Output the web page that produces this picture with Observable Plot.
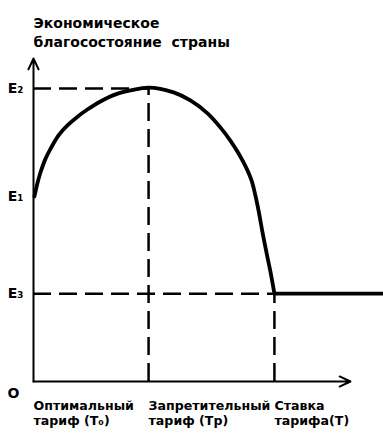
<!DOCTYPE html>
<html>
<head>
<meta charset="utf-8">
<script src="https://cdn.jsdelivr.net/npm/d3@7"></script>
<script src="https://cdn.jsdelivr.net/npm/@observablehq/plot@0.6"></script>
<style>
  html, body { margin: 0; padding: 0; background: #fff; }
  svg { display: block; }
</style>
</head>
<body>
<div id="chart"></div>
<script>
// Title
const titleText = "Экономическое\nблагосостояние  страны";

// Key levels (welfare) and tariff rates
const levelValues = [5.73, 9.07, 2.72];          // E1, E2, E3
const levelLabels = ["E₁", "E₂", "E₃"];
const tariffValues = [0, 3.63, 7.6];             // origin, T0, Tp
const tariffLabels = ["Оптимальный\nтариф (Т₀)", "Запретительный\nтариф (Тр)", "Ставка\nтарифа(Т)"];
const originLabel = "O";

// Welfare curve (tariff rate, welfare)
const curveX = [0.03, 0.13, 0.22, 0.38, 0.54, 0.79, 1.07, 1.39, 1.70, 2.11, 2.59, 3.06, 3.63,
                4.42, 4.95, 5.49, 5.90, 6.21, 6.47, 6.69, 6.88, 7.00, 7.10, 7.22, 7.35, 7.48, 7.60];
const curveY = [5.73, 6.16, 6.47, 6.90, 7.21, 7.62, 7.93, 8.20, 8.42, 8.67, 8.89, 9.01, 9.10,
                8.95, 8.70, 8.30, 7.86, 7.46, 7.06, 6.66, 6.22, 5.76, 5.29, 4.64, 3.99, 3.37, 2.72];
// Flat part after prohibitive tariff
const flatX = [7.6, 11.1];
const flatY = [2.72, 2.72];

const curve = curveX.map((x, i) => ({x, y: curveY[i]}));
const flat = flatX.map((x, i) => ({x, y: flatY[i]}));
const [E1, E2, E3] = levelValues;
const [, T0, Tp] = tariffValues;
const yLabelMap = new Map(levelValues.map((v, i) => [v, levelLabels[i]]));
const xLabelMap = new Map(tariffValues.map((v, i) => [v, tariffLabels[i]]));

const dash = "18,8";
const font = "DejaVu Sans";

const chart = Plot.plot({
  width: 383,
  height: 447,
  marginLeft: 33,
  marginRight: 33,
  marginTop: 58,
  marginBottom: 66,
  style: {fontFamily: font, background: "#fff", color: "#000"},
  x: {domain: [0, 10]},
  y: {domain: [0, 10]},
  marks: [
    // dashed guide lines
    Plot.ruleY([E2], {x1: 0, x2: T0, stroke: "#000", strokeWidth: 2.5, strokeDasharray: dash}),
    Plot.ruleY([E3], {x1: 0, x2: Tp, stroke: "#000", strokeWidth: 2.5, strokeDasharray: dash}),
    Plot.ruleX([T0], {y1: 0, y2: E2, stroke: "#000", strokeWidth: 2.5, strokeDasharray: dash}),
    Plot.ruleX([Tp], {y1: 0, y2: E3, stroke: "#000", strokeWidth: 2.5, strokeDasharray: dash}),
    // axes with arrows
    Plot.arrow([{x1: 0, y1: 0, x2: 0, y2: 10}, {x1: 0, y1: 0, x2: 10, y2: 0}],
      {x1: "x1", y1: "y1", x2: "x2", y2: "y2", stroke: "#000", strokeWidth: 2, headLength: 9, headAngle: 50}),
    // welfare curve
    Plot.line(curve, {x: "x", y: "y", curve: "catmull-rom", stroke: "#000", strokeWidth: 3.8, strokeLinecap: "round"}),
    Plot.line(flat, {x: "x", y: "y", stroke: "#000", strokeWidth: 3.8}),
    // axis labels
    Plot.axisY({ticks: levelValues, tickFormat: d => yLabelMap.get(d), tickSize: 0, tickPadding: 10,
      fontSize: 14, fontWeight: "bold", label: null, fill: "#000"}),
    Plot.axisX({ticks: tariffValues, tickFormat: d => xLabelMap.get(d), tickSize: 0, tickPadding: 17,
      textAnchor: "start", lineHeight: 1.25, fontSize: 12.6, fontWeight: "bold", label: null, fill: "#000"}),
    // origin label
    Plot.text([originLabel], {x: 0, y: 0, text: d => d, dx: -20, dy: 12, fontSize: 14, fontWeight: "bold", fill: "#000"}),
    // title
    Plot.text([titleText], {frameAnchor: "top-left", text: d => d, textAnchor: "start", lineAnchor: "bottom",
      dy: -12, lineHeight: 1.29, fontSize: 14, fontWeight: "bold", fill: "#000"})
  ]
});
document.getElementById("chart").appendChild(chart);
</script>
</body>
</html>
